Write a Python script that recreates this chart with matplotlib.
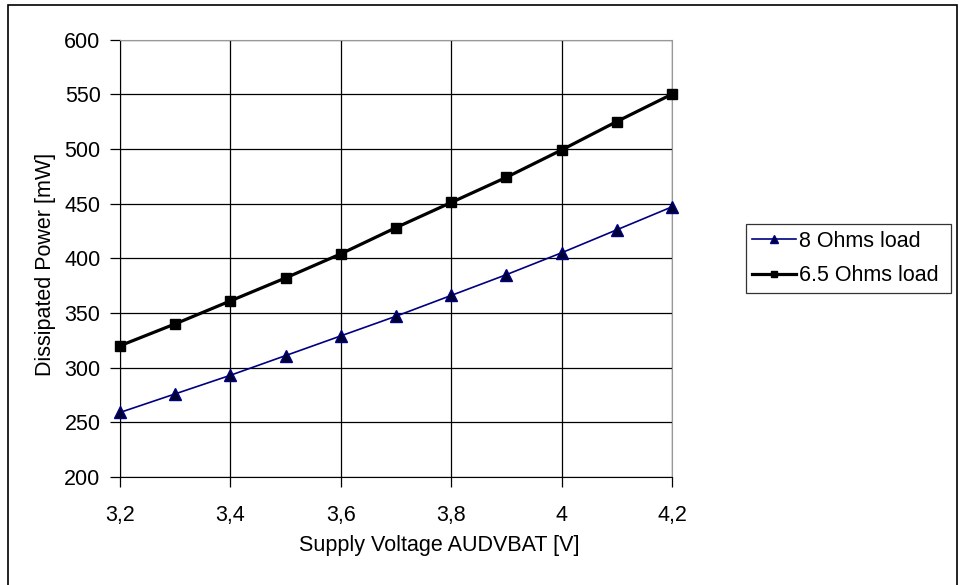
import matplotlib
matplotlib.use("Agg")
import matplotlib.pyplot as plt
from matplotlib.patches import Rectangle
from matplotlib.ticker import FuncFormatter

voltage = [3.2, 3.3, 3.4, 3.5, 3.6, 3.7, 3.8, 3.9, 4.0, 4.1, 4.2]
power_8ohm = [259, 276, 293, 311, 329, 347, 366, 385, 405, 426, 447]
power_65ohm = [320, 340, 361, 382, 404, 428, 451, 474, 499, 525, 550]
x_ticks = [3.2, 3.4, 3.6, 3.8, 4.0, 4.2]
y_ticks = [200, 250, 300, 350, 400, 450, 500, 550, 600]

plt.rcParams['font.family'] = ['Liberation Sans', 'DejaVu Sans']
FS = 15.5

W, H = 963, 585
fig = plt.figure(figsize=(W / 100, H / 100), dpi=100)
ax = fig.add_axes([120 / W, 1 - 477 / H, (672 - 120) / W, (477 - 39.5) / H])

ax.plot(voltage, power_8ohm, color='#000080', lw=1.2, marker='^', ms=8,
        markerfacecolor='#000033', markeredgecolor='#000080', label='8 Ohms load',
        clip_on=False, zorder=3)
ax.plot(voltage, power_65ohm, color='black', lw=2.3, marker='s', ms=7.2,
        markerfacecolor='black', markeredgecolor='black', label='6.5 Ohms load',
        clip_on=False, zorder=3)

ax.set_xlim(3.2, 4.2)
ax.set_ylim(200, 600)
ax.set_xticks(x_ticks)
ax.set_yticks(y_ticks)
ax.xaxis.set_major_formatter(FuncFormatter(lambda v, p: f"{v:g}".replace('.', ',')))
ax.grid(True, color='black', lw=0.9)
ax.set_axisbelow(True)
for side in ['top', 'right']:
    ax.spines[side].set_color('#999999')
for side in ['left', 'bottom']:
    ax.spines[side].set_color('black')
ax.tick_params(axis='both', direction='out', length=7, width=0.9, labelsize=FS,
               colors='black')
ax.tick_params(axis='x', pad=13)
ax.tick_params(axis='y', pad=7)

xl = ax.set_xlabel('Supply Voltage AUDVBAT [V]', fontsize=FS)
xl.set_va('center')
ax.xaxis.set_label_coords((439 - 120) / 552, (477 - 545) / 437.5)
yl = ax.set_ylabel('Dissipated Power [mW]', fontsize=FS)
yl.set_va('center')
ax.yaxis.set_label_coords((45 - 120) / 552, (477 - 264) / 437.5)

leg = ax.legend(loc='center left', bbox_to_anchor=(746 / W, 1 - 294 / H, (951 - 746) / W, (294 - 223) / H),
                bbox_transform=fig.transFigure, fontsize=FS, frameon=True, fancybox=False,
                edgecolor='black', handlelength=2.0, handletextpad=0.15, borderpad=0.3,
                labelspacing=0.65, borderaxespad=0, mode='expand', markerscale=0.65)
leg.get_frame().set_linewidth(0.9)

fig.patches.append(Rectangle((8 / W, -0.05), (957 - 8) / W, 1.05 - 5 / H,
                             transform=fig.transFigure, fill=False, edgecolor='black', lw=1.2))

fig.savefig('out.png', dpi=100)
